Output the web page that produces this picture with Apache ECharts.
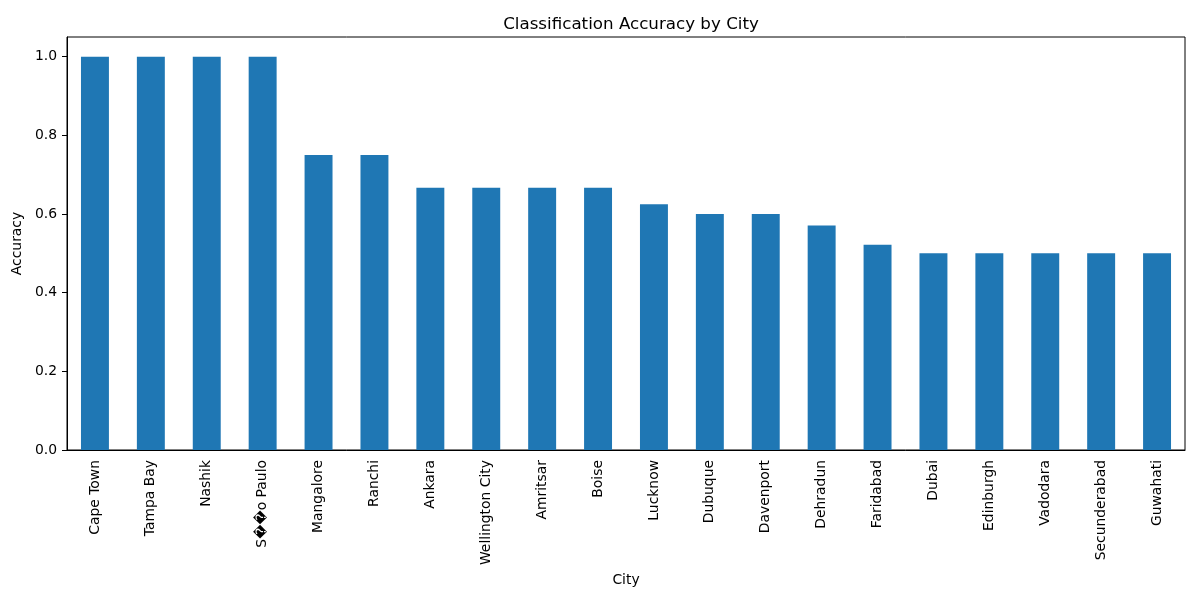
<!DOCTYPE html>
<html>

<head>
    <meta charset="utf-8">
    <title>Classification Accuracy by City</title>
    <script src="https://cdn.jsdelivr.net/npm/echarts@6/dist/echarts.min.js"></script>
</head>

<body style="margin:0">
    <div id="main" style="width: 1200px;height:600px;"></div>
    <script type="text/javascript">
        // cities, sorted by accuracy (label for Sao Paulo is garbled in the source, kept as drawn)
        const cities = ['Cape Town', 'Tampa Bay', 'Nashik', 'S\uFFFD\uFFFDo Paulo', 'Mangalore', 'Ranchi',
            'Ankara', 'Wellington City', 'Amritsar', 'Boise', 'Lucknow', 'Dubuque', 'Davenport',
            'Dehradun', 'Faridabad', 'Dubai', 'Edinburgh', 'Vadodara', 'Secunderabad', 'Guwahati']
        const accuracy = [1.0, 1.0, 1.0, 1.0, 0.75, 0.75,
            0.667, 0.667, 0.667, 0.667, 0.625, 0.6, 0.6,
            0.571, 0.522, 0.5, 0.5, 0.5, 0.5, 0.5]
        const yTicks = [0, 0.2, 0.4, 0.6, 0.8, 1.0]

        const font = 'DejaVu Sans'
        let myChart = echarts.init(document.getElementById('main'));

        let option = {
            animation: false,
            title: {
                text: 'Classification Accuracy by City',
                left: 626,
                top: 11,
                textAlign: 'center',
                textStyle: { fontFamily: font, fontSize: 16.7, fontWeight: 'normal', color: '#000' }
            },
            grid: {
                left: 67,
                right: 15,
                top: 37,
                bottom: 150,
                show: true,
                borderColor: '#000',
                borderWidth: 1
            },
            xAxis: {
                type: 'category',
                data: cities,
                name: 'City',
                nameLocation: 'middle',
                nameGap: 117,
                nameTextStyle: { fontFamily: font, fontSize: 13.9, color: '#000' },
                axisLine: { lineStyle: { color: '#000', width: 1 } },
                axisTick: { alignWithLabel: true, length: 5, lineStyle: { color: '#000' } },
                axisLabel: {
                    rotate: 90,
                    interval: 0,
                    margin: 10,
                    fontFamily: font,
                    fontSize: 13.9,
                    color: '#000'
                }
            },
            yAxis: {
                type: 'value',
                min: 0,
                max: 1.05,
                name: 'Accuracy',
                nameLocation: 'middle',
                nameGap: 40,
                nameTextStyle: { fontFamily: font, fontSize: 13.9, color: '#000' },
                splitLine: { show: false },
                axisLine: { show: true, lineStyle: { color: '#000', width: 1 } },
                axisTick: { show: true, length: 5, customValues: yTicks, lineStyle: { color: '#000' } },
                axisLabel: {
                    customValues: yTicks,
                    margin: 10,
                    fontFamily: font,
                    fontSize: 13.9,
                    color: '#000',
                    formatter: v => v.toFixed(1)
                }
            },
            series: [
                {
                    name: 'Accuracy',
                    type: 'bar',
                    barWidth: '50%',
                    itemStyle: { color: '#1f77b4' },
                    data: accuracy
                }
            ]
        };

        myChart.setOption(option);
    </script>
</body>

</html>
